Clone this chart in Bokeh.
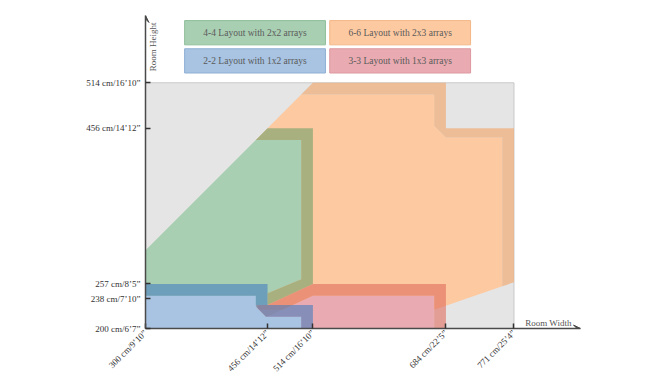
import math
from bokeh.plotting import figure
from bokeh.models import FixedTicker, Arrow, VeeHead
from bokeh.core.properties import value
from bokeh.embed import file_html
from bokeh.resources import INLINE

# ---------------- data (room width / room height in cm) ----------------
width_ticks = [300, 456, 514, 684, 771]
width_labels = ["300 cm/9’10”", "456 cm/14’12”", "514 cm/16’10”", "684 cm/22’5”", "771 cm/25’4”"]
height_ticks = [200, 238, 257, 456, 514]
height_labels = ["200 cm/6’7”", "238 cm/7’10”", "257 cm/8’5”", "456 cm/14’12”", "514 cm/16’10”"]

# 6-6 layout (2x3 arrays)
l66_outer_w = [514, 684, 684, 771, 771]
l66_outer_h = [514, 514, 456, 456, 259]
l66_inner_w = [499, 669, 669, 684, 756, 756]
l66_inner_h = [499, 499, 459, 444, 444, 254]
l66_base_w = [669, 441, 441]
l66_base_h = [224, 224, 441]

# 4-4 layout (2x2 arrays)
l44_outer_w = [456, 514, 514, 456]
l44_outer_h = [456, 456, 257, 230]
l44_inner_w = [441, 499, 499, 456]
l44_inner_h = [441, 441, 263, 245]
l44_base_w = [456, 300, 300]
l44_base_h = [230, 230, 300]

# 3-3 layout (1x3 arrays)
l33_outer_w = [443, 456, 514, 684, 684]
l33_outer_h = [230, 230, 257, 257, 200]
l33_inner_w = [443, 456, 514, 669, 669]
l33_inner_h = [215, 215, 242, 242, 200]
l33_base_w = [443]
l33_base_h = [200]

# 2-2 layout (1x2 arrays)
l22_outer_w = [300, 456, 456, 514, 514]
l22_outer_h = [257, 257, 230, 230, 200]
l22_inner_w = [300, 441, 441, 454, 499, 499]
l22_inner_h = [242, 242, 228, 215, 215, 200]
l22_base_w = [300]
l22_base_h = [200]

legend_names = ["4-4 Layout with 2x2 arrays", "6-6 Layout with 2x3 arrays",
                "2-2 Layout with 1x2 arrays", "3-3 Layout with 1x3 arrays"]

# ---------------- styles ----------------
SERIF = value("Liberation Serif")
styles = {
    "66": dict(fill="#fdc9a1", band="#f0ac76", band_alpha=0.7, edge="#f3b787"),
    "44": dict(fill="#a9cfb3", band="#84a572", band_alpha=0.7, edge="#8fbf9b"),
    "33": dict(fill="#e9abb1", band="#e06c5d", band_alpha=0.6, edge="#dc98a0"),
    "22": dict(fill="#a8c4e2", band="#467dbe", band_alpha=0.6, edge="#8eafd5"),
}

p = figure(frame_width=435, frame_height=313, x_range=(300, 856), y_range=(200, 600),
           output_backend="svg", toolbar_location=None,
           min_border_left=145, min_border_right=54, min_border_top=15, min_border_bottom=43)
p.outline_line_color = None
p.grid.visible = False
p.background_fill_color = "white"

# gray background (plot area of valid rooms)
p.quad(left=width_ticks[0], right=width_ticks[-1], bottom=height_ticks[0], top=height_ticks[-1],
       fill_color="#e5e5e5", line_color="#c9c9c9", line_width=1)


def draw_layout(key, ow, oh, iw, ih, bw, bh):
    st = styles[key]
    # inner fill
    p.patch(iw + bw, ih + bh, fill_color=st["fill"], line_color=None)
    # darker band along top / right edges
    p.patch(ow + iw[::-1], oh + ih[::-1], fill_color=st["band"], fill_alpha=st["band_alpha"],
            line_color=None)


draw_layout("66", l66_outer_w, l66_outer_h, l66_inner_w, l66_inner_h, l66_base_w, l66_base_h)
draw_layout("44", l44_outer_w, l44_outer_h, l44_inner_w, l44_inner_h, l44_base_w, l44_base_h)
draw_layout("33", l33_outer_w, l33_outer_h, l33_inner_w, l33_inner_h, l33_base_w, l33_base_h)
draw_layout("22", l22_outer_w, l22_outer_h, l22_inner_w, l22_inner_h, l22_base_w, l22_base_h)

# legend boxes
leg_x = [440, 625.5, 440, 625.5]
leg_y = [578, 578, 542, 542]
leg_keys = ["44", "66", "22", "33"]
p.rect(x=leg_x, y=leg_y, width=180, height=31,
       fill_color=[styles[k]["fill"] for k in leg_keys],
       line_color=[styles[k]["edge"] for k in leg_keys], line_width=1)
p.text(x=leg_x, y=leg_y, text=legend_names, text_font=SERIF, text_font_size="9.5px",
       text_color="#5a5a5a", text_align="center", text_baseline="middle")

# axes
for ax in (p.xaxis[0], p.yaxis[0]):
    ax.axis_line_color = "#4a4a4a"
    ax.axis_line_width = 1.5
    ax.major_tick_line_color = "#333333"
    ax.major_tick_line_width = 1.5
    ax.major_tick_in = 5
    ax.major_tick_out = 0
    ax.minor_tick_line_color = None
    ax.major_label_text_font = "Liberation Serif"
    ax.major_label_text_font_size = "9px"
    ax.major_label_text_color = "#333333"

p.xaxis.ticker = FixedTicker(ticks=width_ticks)
p.xaxis.major_label_overrides = {t: s for t, s in zip(width_ticks, width_labels)}
p.xaxis.major_label_orientation = math.pi / 4
p.xaxis.major_label_standoff = 3
p.yaxis.ticker = FixedTicker(ticks=height_ticks)
p.yaxis.major_label_overrides = {t: s for t, s in zip(height_ticks, height_labels)}
p.yaxis.major_label_standoff = 5

# arrow heads at axis ends
p.add_layout(Arrow(end=VeeHead(size=7, line_color="#4a4a4a", fill_color="#4a4a4a", line_width=1),
                   x_start=300, y_start=590, x_end=300, y_end=600, line_alpha=0))
p.add_layout(Arrow(end=VeeHead(size=7, line_color="#4a4a4a", fill_color="#4a4a4a", line_width=1),
                   x_start=840, y_start=200, x_end=856, y_end=200, line_alpha=0))

# axis titles
p.text(x=[309], y=[560], text=["Room Height"], angle=math.pi / 2, text_font=SERIF,
       text_font_size="9px", text_color="#555555", text_align="center", text_baseline="middle")
p.text(x=[815], y=[200], text=["Room Width"], text_font=SERIF, text_font_size="9px",
       text_color="#555555", text_align="center", text_baseline="bottom", y_offset=-1)

open("out.html", "w").write(file_html(p, INLINE))
